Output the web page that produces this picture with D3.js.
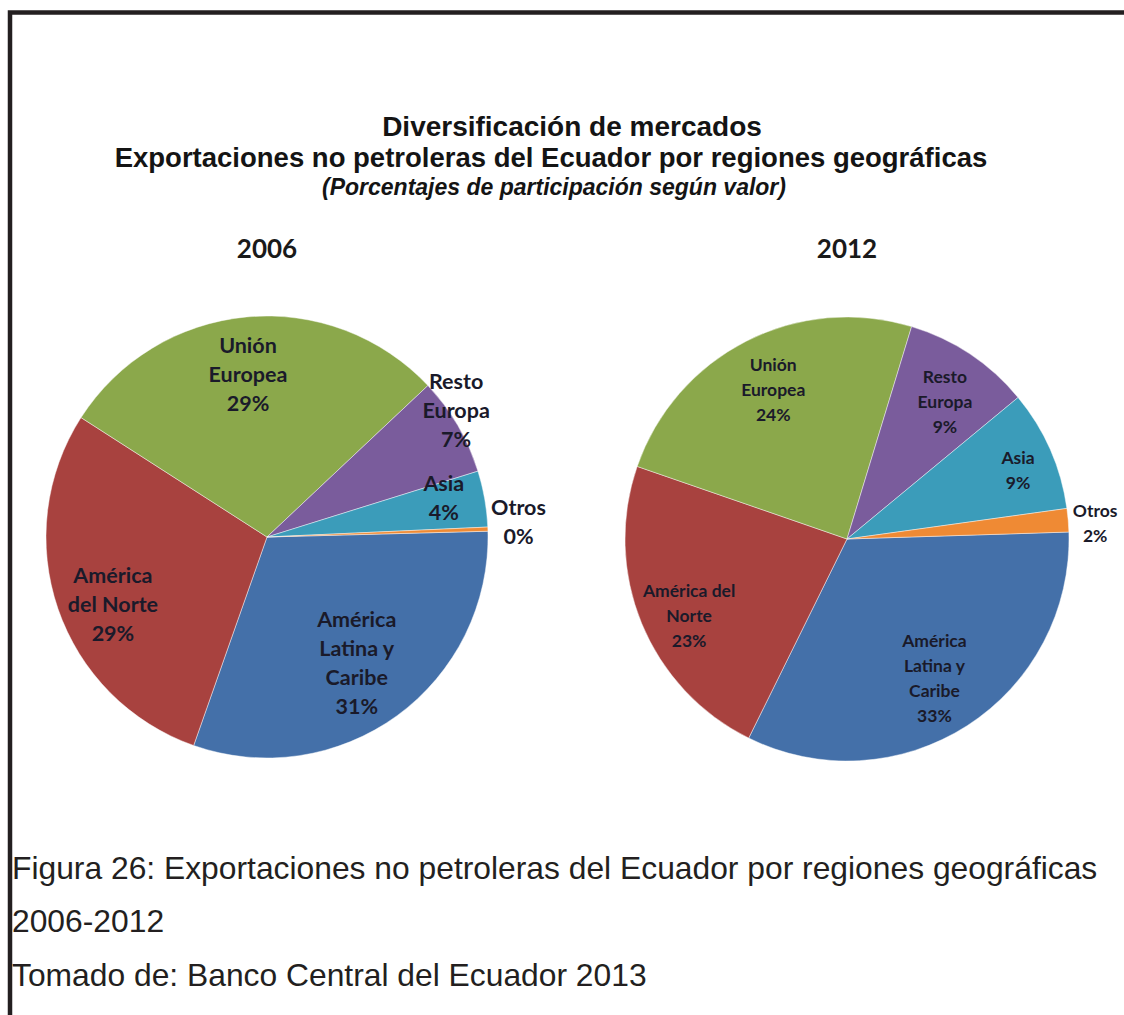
<!DOCTYPE html>
<html>
<head>
<meta charset="utf-8">
<script src="https://cdn.jsdelivr.net/npm/d3@7"></script>
<style>
  html, body { margin: 0; padding: 0; background: #fff; }
  svg { display: block; }
</style>
</head>
<body>
<svg id="chart" width="1124" height="1015"></svg>
<script>
// ---------------- DATA ----------------
const regions = ["América Latina y Caribe", "América del Norte", "Unión Europea", "Resto Europa", "Asia", "Otros"];
const years = ["2006", "2012"];
const values2006 = [30.8, 28.7, 28.9, 7.2, 4.1, 0.3];
const values2012 = [32.8, 23.0, 24.4, 9.3, 8.8, 1.7];
const labelLines2006 = [["América", "Latina y", "Caribe"], ["América", "del Norte"], ["Unión", "Europea"], ["Resto", "Europa"], ["Asia"], ["Otros"]];
const labelLines2012 = [["América", "Latina y", "Caribe"], ["América del", "Norte"], ["Unión", "Europea"], ["Resto", "Europa"], ["Asia"], ["Otros"]];
const titleLines = ["Diversificación de mercados", "Exportaciones no petroleras del Ecuador por regiones geográficas"];
const subtitle = "(Porcentajes de participación según valor)";
const captionLines = ["Figura 26: Exportaciones no petroleras del Ecuador por regiones geográficas", "2006-2012", "Tomado de: Banco Central del Ecuador 2013"];

// ---------------- STYLE / LAYOUT ----------------
const colors = ["#4470a9", "#a8423f", "#8ba84b", "#7a5c9c", "#3b9cba", "#ef8a34"];
const pies = [
  { cx: 267, cy: 537, r: 221, start: 88.5, font: 21.5, lh: 29,
    // label placement: [angle offset from slice mid (deg), radius factor]
    place: [[0.6, 0.70], [-4.5, 0.76], [-1.4, 0.74], [-3.5, 1.03], [-2.7, 0.82], [-1.4, 1.14]] },
  { cx: 847, cy: 539, r: 222, start: 88.2, font: 17.5, lh: 25,
    place: [[0.6, 0.74], [-3.5, 0.79], [0.7, 0.75], [1.8, 0.76], [1.9, 0.83], [1.2, 1.12]] }
];
const allValues = [values2006, values2012];
const allLabels = [labelLines2006, labelLines2012];

const svg = d3.select("#chart");
const deg = Math.PI / 180;

// frame
svg.append("path")
  .attr("d", "M10,1015 V12.5 H1124")
  .attr("fill", "none").attr("stroke", "#231f20").attr("stroke-width", 4.5);

// titles
const titleFont = "'Liberation Sans', Arial, sans-serif";
svg.append("text").attr("x", 572).attr("y", 136).attr("text-anchor", "middle")
  .attr("font-family", titleFont).attr("font-weight", "bold").attr("font-size", 28)
  .attr("fill", "#141414").text(titleLines[0]);
svg.append("text").attr("x", 551).attr("y", 167).attr("text-anchor", "middle")
  .attr("font-family", titleFont).attr("font-weight", "bold").attr("font-size", 27.5)
  .attr("fill", "#141414").text(titleLines[1]);
svg.append("text").attr("x", 554).attr("y", 195).attr("text-anchor", "middle")
  .attr("font-family", titleFont).attr("font-weight", "bold").attr("font-style", "italic").attr("font-size", 23)
  .attr("fill", "#141414").text(subtitle);

// pies
pies.forEach((p, k) => {
  const vals = allValues[k];
  const data = regions.map((name, i) => ({ name, value: vals[i], lines: allLabels[k][i], i }));
  const pie = d3.pie().value(d => d.value).sort(null)
    .startAngle(p.start * deg).endAngle(p.start * deg + 2 * Math.PI);
  const arcs = pie(data);
  const arc = d3.arc().innerRadius(0).outerRadius(p.r);
  const color = d3.scaleOrdinal().domain(regions).range(colors);

  const g = svg.append("g").attr("transform", `translate(${p.cx},${p.cy})`);

  // year label
  svg.append("text").attr("x", p.cx).attr("y", 258).attr("text-anchor", "middle")
    .attr("font-family", "Lato, 'Open Sans', sans-serif").attr("font-weight", "bold").attr("font-size", 26)
    .attr("fill", "#1a1a1a").text(years[k]);

  g.selectAll("path.slice").data(arcs).join("path")
    .attr("class", "slice")
    .attr("d", arc)
    .attr("fill", d => color(d.data.name))
    .attr("stroke", "rgba(255,255,255,0.55)").attr("stroke-width", 0.8);

  const labels = g.selectAll("g.lab").data(arcs).join("g").attr("class", "lab")
    .attr("transform", d => {
      const [da, f] = p.place[d.data.i];
      const a = (d.startAngle + d.endAngle) / 2 + da * deg;
      const rr = p.r * f;
      return `translate(${Math.sin(a) * rr},${-Math.cos(a) * rr})`;
    });
  labels.each(function (d) {
    const lines = d.data.lines.concat([Math.round(d.data.value) + "%"]);
    const n = lines.length;
    d3.select(this).selectAll("text").data(lines).join("text")
      .attr("x", 0)
      .attr("y", (t, j) => (j - (n - 1) / 2) * p.lh)
      .attr("dy", "0.36em")
      .attr("text-anchor", "middle")
      .attr("font-family", "Lato, 'Open Sans', sans-serif")
      .attr("font-weight", "bold")
      .attr("font-size", p.font)
      .attr("fill", "#1a1a2a")
      .text(t => t);
  });
});

// caption
const capY = [879, 932, 986];
captionLines.forEach((t, i) => {
  svg.append("text").attr("x", 12).attr("y", capY[i])
    .attr("font-family", titleFont).attr("font-size", 31.8)
    .attr("fill", "#231f20").text(t);
});
</script>
</body>
</html>
